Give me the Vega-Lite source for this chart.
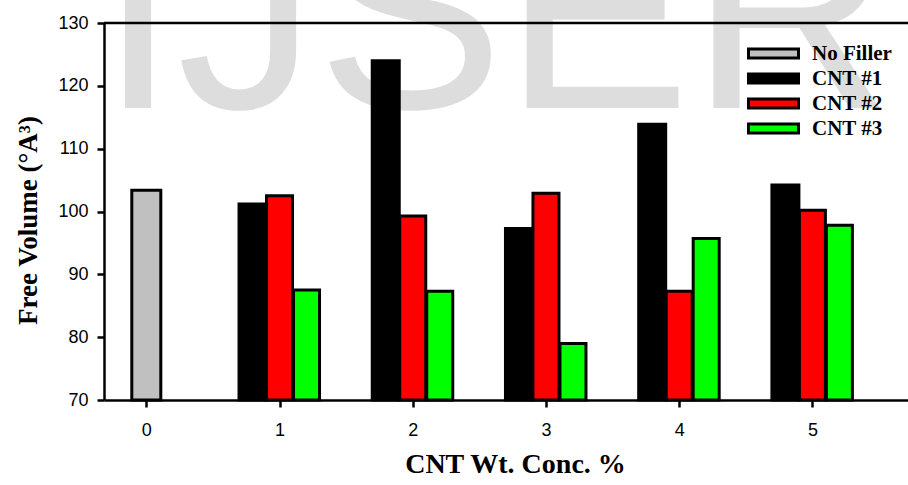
{
  "$schema": "https://vega.github.io/schema/vega-lite/v6.json",
  "width": 804,
  "height": 377,
  "autosize": {"type": "none"},
  "padding": {"left": 104, "top": 23, "right": 0, "bottom": 85},
  "background": "white",
  "config": {"view": {"stroke": null}, "axis": {"grid": false}},
  "data": {
    "values": [
      {"conc": 0, "series": "No Filler", "value": 103.4},
      {"conc": 1, "series": "CNT #1", "value": 101.2},
      {"conc": 2, "series": "CNT #1", "value": 124.0},
      {"conc": 3, "series": "CNT #1", "value": 97.3},
      {"conc": 4, "series": "CNT #1", "value": 113.9},
      {"conc": 5, "series": "CNT #1", "value": 104.2},
      {"conc": 1, "series": "CNT #2", "value": 102.5},
      {"conc": 2, "series": "CNT #2", "value": 99.3},
      {"conc": 3, "series": "CNT #2", "value": 102.9},
      {"conc": 4, "series": "CNT #2", "value": 87.3},
      {"conc": 5, "series": "CNT #2", "value": 100.2},
      {"conc": 1, "series": "CNT #3", "value": 87.5},
      {"conc": 2, "series": "CNT #3", "value": 87.3},
      {"conc": 3, "series": "CNT #3", "value": 79.0},
      {"conc": 4, "series": "CNT #3", "value": 95.7},
      {"conc": 5, "series": "CNT #3", "value": 97.8}
    ]
  },
  "layer": [
    {
      "data": {"values": [{"text": "IJSER"}]},
      "mark": {"type": "text", "font": "Liberation Sans", "fontSize": 280, "align": "center", "baseline": "alphabetic"},
      "encoding": {
        "x": {"datum": 2.624, "type": "quantitative"},
        "y": {"datum": 116.47, "type": "quantitative"},
        "text": {"field": "text"},
        "color": {"value": "#dddddd"}
      }
    },
    {
      "data": {"values": [{"text": "IJSER"}]},
      "mark": {"type": "rule", "color": "black", "strokeWidth": 2.5},
      "encoding": {"y": {"datum": 130, "type": "quantitative"}}
    },
    {
      "encoding": {
        "x": {
          "field": "conc",
          "type": "quantitative",
          "scale": {"domain": [-0.28, 5.68], "nice": false, "zero": false},
          "axis": {
            "values": [0, 1, 2, 3, 4, 5],
            "format": "d",
            "tickSize": 7,
            "tickWidth": 2.5,
            "tickColor": "black",
            "domainWidth": 2.5,
            "domainColor": "black",
            "labelFont": "Liberation Sans",
            "labelFontSize": 18,
            "labelColor": "black",
            "labelPadding": 14,
            "title": "CNT Wt. Conc. %",
            "titleFont": "Liberation Serif",
            "titleFontWeight": "bold",
            "titleFontSize": 28,
            "titleColor": "black",
            "titleX": 411,
            "titleY": 72.5,
            "titleAlign": "center",
            "titleBaseline": "alphabetic",
            "zindex": 1
          }
        },
        "y": {
          "field": "value",
          "type": "quantitative",
          "scale": {"domain": [70, 130], "nice": false, "zero": false},
          "axis": {
            "values": [70, 80, 90, 100, 110, 120, 130],
            "tickSize": 7,
            "tickWidth": 2.5,
            "tickColor": "black",
            "domainWidth": 2.5,
            "domainColor": "black",
            "labelFont": "Liberation Sans",
            "labelFontSize": 18,
            "labelColor": "black",
            "labelPadding": 9,
            "title": "Free Volume (°A³)",
            "titleFont": "Liberation Serif",
            "titleFontWeight": "bold",
            "titleFontSize": 27,
            "titleColor": "black",
            "titleAngle": -90,
            "titleX": -68,
            "titleY": 197,
            "titleAlign": "center",
            "titleBaseline": "alphabetic",
            "zindex": 1
          }
        },
        "y2": {"datum": 70},
        "fill": {
          "field": "series",
          "type": "nominal",
          "scale": {
            "domain": ["No Filler", "CNT #1", "CNT #2", "CNT #3"],
            "range": ["#c0c0c0", "#000000", "#ff0000", "#00ff00"]
          },
          "legend": {
            "orient": "none",
            "legendX": 658,
            "legendY": 19,
            "title": null,
            "padding": 0,
            "symbolType": "M-2.5,-0.45H2.5V0.45H-2.5Z",
            "symbolSize": 400,
            "symbolStrokeColor": "black",
            "symbolStrokeWidth": 3,
            "labelFont": "Liberation Serif",
            "labelFontWeight": "bold",
            "labelFontSize": 21,
            "labelColor": "black",
            "labelOffset": 27,
            "rowPadding": 3
          }
        }
      },
      "layer": [
        {
          "transform": [{"filter": "datum.series === 'No Filler'"}],
          "mark": {"type": "bar", "width": 29, "stroke": "black", "strokeWidth": 3}
        },
        {
          "transform": [{"filter": "datum.series === 'CNT #1'"}],
          "mark": {"type": "bar", "width": 27, "xOffset": -27, "stroke": "black", "strokeWidth": 3}
        },
        {
          "transform": [{"filter": "datum.series === 'CNT #2'"}],
          "mark": {"type": "bar", "width": 26, "stroke": "black", "strokeWidth": 3}
        },
        {
          "transform": [{"filter": "datum.series === 'CNT #3'"}],
          "mark": {"type": "bar", "width": 26, "xOffset": 27, "stroke": "black", "strokeWidth": 3}
        }
      ]
    }
  ]
}
